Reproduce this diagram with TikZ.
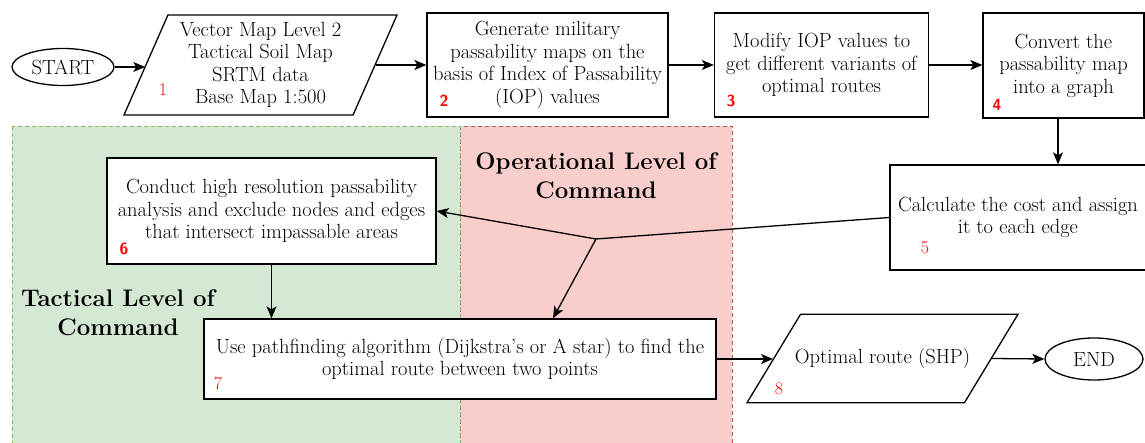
\documentclass[tikz,border=0pt]{standalone}
\usetikzlibrary{shapes.geometric,arrows.meta}
\definecolor{gfill}{HTML}{D5E8D4}
\definecolor{gline}{HTML}{82B366}
\definecolor{rfill}{HTML}{F8CECC}
\definecolor{rline}{HTML}{B85450}
\definecolor{numred}{HTML}{FF0000}
\begin{document}
\begin{tikzpicture}[x=1pt,y=-1pt,
  txt/.style={font=\fontsize{20.5}{22.5}\selectfont, align=center},
  box/.style={txt, draw, line width=1.3pt, fill=white, inner sep=1pt},
  para/.style={txt, draw, line width=1.3pt, fill=white, trapezium, trapezium stretches body=true, inner sep=1pt},
  oval/.style={txt, draw, line width=1.3pt, fill=white, ellipse, inner sep=0pt},
  arr/.style={line width=1.3pt, -{Stealth[length=12pt,width=10pt,inset=3pt]}},
  conn/.style={line width=1.3pt},
  region/.style={line width=0.8pt, dash pattern=on 4pt off 3pt},
  lvl/.style={font=\fontsize{24}{29}\selectfont\bfseries, align=center},
  numA/.style={text=numred, font=\fontsize{18}{18}\selectfont, inner sep=0pt},
  numB/.style={text=numred, font=\fontsize{16}{16}\selectfont\sffamily\bfseries, inner sep=0pt}]
\useasboundingbox (0,0) rectangle (1145,443);
% regions
\path[region, fill=rfill, draw=rline] (460,126) rectangle (732,460);
\path[region, fill=gfill, draw=gline] (12,126) rectangle (460,460);
\node[lvl] (ol) at (596,176) {Operational Level of\\Command};
\node[lvl] (tl) at (118,313) {Tactical Level of\\Command};
% top row
\node[oval, minimum width=102pt, minimum height=37pt] (start) at (63,67) {START};
\node[para, minimum width=273pt, minimum height=100pt, trapezium left angle=63.4, trapezium right angle=116.6] (p1) at (260.5,65)
  {Vector Map Level 2\\Tactical Soil Map\\SRTM data\\Base Map 1:500};
\node[box, minimum width=241pt, minimum height=104pt] (b2) at (547.5,65)
  {Generate military\\passability maps on the\\basis of Index of Passability\\(IOP) values};
\node[box, minimum width=214pt, minimum height=104pt] (b3) at (821.5,65)
  {Modify IOP values to\\get different variants of\\optimal routes};
\node[box, minimum width=161pt, minimum height=105pt] (b4) at (1063.5,65.5)
  {Convert the\\passability map\\into a graph};
\node[box, minimum width=256pt, minimum height=105pt] (b5) at (1018,217.5)
  {Calculate the cost and assign\\it to each edge};
\node[box, minimum width=329pt, minimum height=106pt] (b6) at (271.5,211)
  {Conduct high resolution passability\\analysis and exclude nodes and edges\\that intersect impassable areas};
\node[box, minimum width=512pt, minimum height=80pt] (b7) at (460,359)
  {Use pathfinding algorithm (Dijkstra's or A star) to find the\\optimal route between two points};
\node[para, minimum width=271pt, inner xsep=0pt, inner ysep=34pt, trapezium left angle=58.8, trapezium right angle=121.2] (p8) at (882.5,358.5)
  {\makebox[150pt]{Optimal route (SHP)}};
\node[oval, minimum width=98pt, minimum height=42pt] (end) at (1094,359) {END};
% numbers
\node[numA] (n1) at (163,90) {1};
\node[numB] (n2) at (444,101) {2};
\node[numB] (n3) at (731,101) {3};
\node[numB] (n4) at (997,105) {4};
\node[numA] (n5) at (925,248) {5};
\node[numB] (n6) at (124,249) {6};
\node[numA] (n7) at (218,384) {7};
\node[numA] (n8) at (779,389) {8};
% connectors
\draw[arr] (start.east) -- (start.east -| p1.west);
\draw[arr] (p1.east) -- (p1.east -| b2.west);
\draw[arr] (b2.east) -- (b3.west);
\draw[arr] (b3.east) -- (b3.east -| b4.west);
\draw[arr] ([xshift=-5.5pt]b4.south) -- ([xshift=-5.5pt]b4.south |- b5.north);
\coordinate (j) at (596,239);
\draw[conn] (b5.west) -- (j);
\draw[arr] (j) -- (b6.east);
\draw[arr] (j) -- ([xshift=93pt]b7.north);
\draw[arr] (b6.south) -- (b6.south |- b7.north);
\draw[arr] (b7.east) -- (b7.east -| p8.west);
\draw[arr] (p8.east) -- (end.west);
\end{tikzpicture}
\end{document}
